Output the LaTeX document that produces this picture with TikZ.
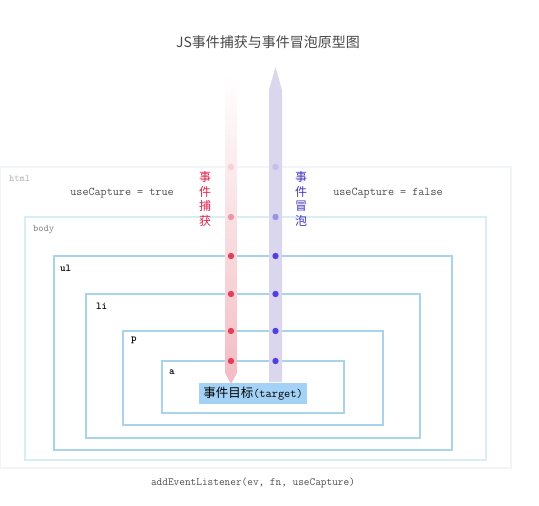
\documentclass[tikz,border=0pt]{standalone}
\usepackage{fontspec}
\newfontfamily\cjk{Noto Sans CJK SC}
\usetikzlibrary{positioning}
\definecolor{htmlline}{HTML}{F1F5F8}
\definecolor{bodyline}{HTML}{D9EDF6}
\definecolor{boxline}{HTML}{A9D3EA}
\definecolor{capbar}{HTML}{F2BCC3}
\definecolor{capmid}{HTML}{F8D8DC}
\definecolor{capdot}{HTML}{E0405A}
\definecolor{capword}{HTML}{E0204A}
\definecolor{bubbar}{HTML}{D9D6EE}
\definecolor{bubdot}{HTML}{5240DC}
\definecolor{bubword}{HTML}{4434C0}
\definecolor{targetfill}{HTML}{A3D2F6}

\begin{document}
\begin{tikzpicture}[x=1pt, y=-1pt,
  box/.style={draw=boxline, line width=1.8pt, inner sep=0pt, outer sep=0pt},
  tag/.style={inner sep=0pt, font=\ttfamily\bfseries\fontsize{10.5}{12}\selectfont},
  word/.style={inner sep=0pt, align=center, font=\cjk\fontsize{12}{14.5}\selectfont},
  note/.style={inner sep=0pt, text=black!70, font=\ttfamily\fontsize{11.8}{13}\selectfont}]
\useasboundingbox (0,0) rectangle (539,506);

\node [font=\cjk\fontsize{14}{16}\selectfont, text=black!72] (title) at (268,42) {JS事件捕获与事件冒泡原型图};

% nested boxes
\node [box, draw=htmlline, line width=1.5pt, minimum width=511pt, minimum height=301pt] (html) at (255.5,317.5) {};
\node [box, draw=bodyline, minimum width=461pt, minimum height=243pt] (body) at (255.5,338.5) {};
\node [box, minimum width=398pt, minimum height=194pt] (ul) at (253,353) {};
\node [box, minimum width=334pt, minimum height=144pt] (li) at (253,366) {};
\node [box, minimum width=260pt, minimum height=94pt] (p) at (253,378) {};
\node [box, minimum width=182pt, minimum height=52pt] (a) at (253,387) {};

\node [tag, text=black!30, font=\ttfamily\fontsize{10}{12}\selectfont, below right=8pt and 9pt of html.north west] (html_tag) {html};
\node [tag, text=black!50, font=\ttfamily\fontsize{10}{12}\selectfont, below right=8pt and 8pt of body.north west] (body_tag) {body};
\node [tag, below right=9pt and 6pt of ul.north west] (ul_tag) {ul};
\node [tag, below right=9pt and 10pt of li.north west] (li_tag) {li};
\node [tag, below right=6pt and 8pt of p.north west] (p_tag) {p};
\node [tag, below right=9pt and 7pt of a.north west] (a_tag) {a};

% capture and bubble bars
\coordinate (capx) at (231,0);
\coordinate (bubx) at (275.5,0);
\shade [top color=white, middle color=capmid, bottom color=capbar]
  (225,75) -- (237,75) -- (237,373) -- (231,384) -- (225,373) -- cycle;
\fill [bubbar] (269,382) -- (269,90) -- (275.5,67) -- (282,90) -- (282,382) -- cycle;
\foreach \b/\o in {html/0.15, body/0.45, ul/1, li/1, p/1, a/1} {
  \fill [capdot, opacity=\o] (capx |- \b.north) circle (3.2pt);
  \fill [bubdot, opacity=\o] (bubx |- \b.north) circle (3.2pt);
}

\node [word, text=capword] (capture) at (205,199) {事\\件\\捕\\获};
\node [word, text=bubword] (bubble) at (301,199) {事\\件\\冒\\泡};
\node [note] (use_true) at (122,193) {useCapture = true};
\node [note] (use_false) at (388,193) {useCapture = false};

\node [fill=targetfill, minimum width=108pt, minimum height=21pt, inner sep=0pt] (target) at (253,393.5)
  {{\cjk\fontsize{12.5}{14}\selectfont 事件目标}{\ttfamily\fontsize{12}{14}\selectfont(target)}};

\node [note, font=\ttfamily\fontsize{11}{13}\selectfont] (listener) at (253,483) {addEventListener(ev, fn, useCapture)};
\end{tikzpicture}
\end{document}
